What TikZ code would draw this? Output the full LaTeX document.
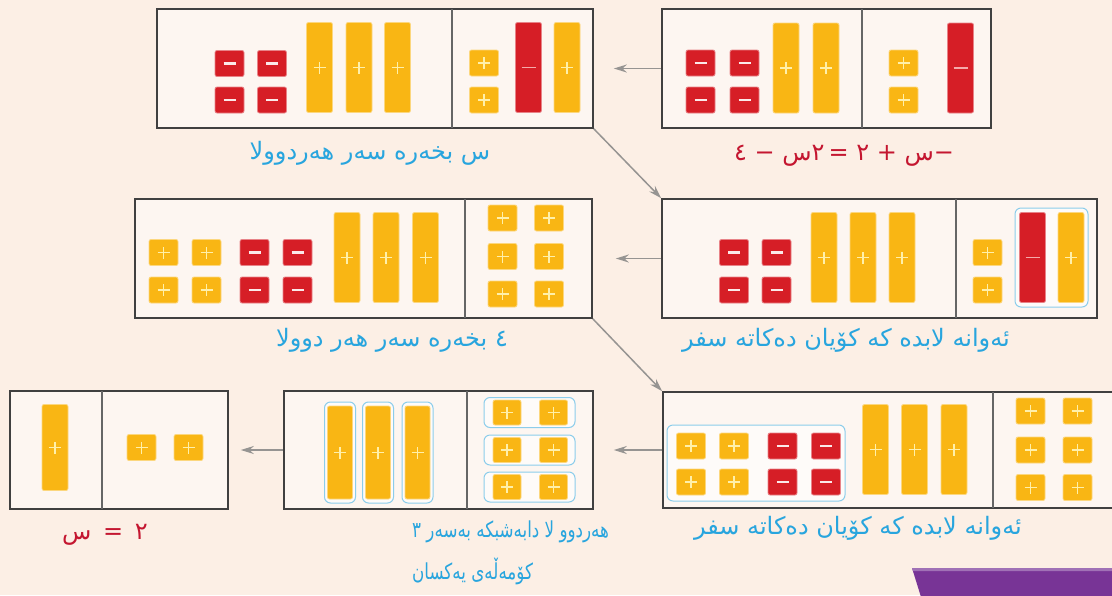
\documentclass[tikz,border=0pt]{standalone}
\usepackage{fontspec}
\usepackage{graphicx}
\newfontfamily\ar[Script=Arabic]{DejaVu Sans}
\TeXXeTstate=1
\usetikzlibrary{arrows.meta}
\definecolor{bg}{RGB}{252,239,229}
\definecolor{panelfill}{RGB}{253,246,241}
\definecolor{tileY}{RGB}{249,182,20}
\definecolor{tileR}{RGB}{214,30,38}
\definecolor{lblue}{RGB}{40,165,222}
\definecolor{lred}{RGB}{196,22,48}
\definecolor{grp}{RGB}{140,205,235}
\definecolor{arrgrey}{RGB}{150,148,146}
\definecolor{purp}{RGB}{120,52,150}
\definecolor{signY}{RGB}{255,240,170}
\definecolor{signR}{RGB}{245,170,170}
\begin{document}
\begin{tikzpicture}[x=1pt,y=-1pt,
 panel/.style={draw=black!75, line width=1.6pt, fill=panelfill, inner sep=0pt},
 divider/.style={draw=black!60, line width=1.2pt},
 tile/.style={rounded corners=2pt, inner sep=0pt, draw=#1!55!white, line width=0.8pt, fill=#1},
 plus/.style={path picture={
   \draw[signY, line width=1.2pt] ([xshift=-6pt]path picture bounding box.center) -- ([xshift=6pt]path picture bounding box.center);
   \draw[signY, line width=1.2pt] ([yshift=-6pt]path picture bounding box.center) -- ([yshift=6pt]path picture bounding box.center);}},
 minus/.style={path picture={
   \draw[white!90!tileR, line width=2.2pt] ([xshift=-6pt]path picture bounding box.center) -- ([xshift=6pt]path picture bounding box.center);}},
 thinminus/.style={path picture={
   \draw[signR, line width=1.4pt] ([xshift=-7pt]path picture bounding box.center) -- ([xshift=7pt]path picture bounding box.center);}},
 ys/.style={tile=tileY, minimum width=29pt, minimum height=26pt, plus},
 rs/.style={tile=tileR, minimum width=29pt, minimum height=26pt, minus},
 yb/.style={tile=tileY, minimum width=26pt, minimum height=90pt, plus},
 rb/.style={tile=tileR, minimum width=26pt, minimum height=90pt, thinminus},
 grpbox/.style={draw=grp, line width=1pt, fill=white!60!panelfill, rounded corners=6pt, inner sep=0pt},
 arr/.style={draw=arrgrey, line width=1.5pt, -{Stealth[length=13pt,width=8pt]}},
 lbl/.style={font=\ar\fontsize{24}{28}\selectfont, inner sep=0pt},
 lbls/.style={font=\ar\fontsize{22}{26}\selectfont, inner sep=0pt},
]
\useasboundingbox (0,0) rectangle (1112,595);
\fill[bg] (0,0) rectangle (1112,595);

% panels
\node[panel, minimum width=329pt, minimum height=119pt] (b1) at (826.5,68.5) {};
\node[panel, minimum width=436pt, minimum height=119pt] (b2) at (375,68.5) {};
\node[panel, minimum width=435pt, minimum height=119pt] (b3) at (879.5,258.5) {};
\node[panel, minimum width=457pt, minimum height=119pt] (b4) at (363.5,258.5) {};
\node[panel, minimum width=451pt, minimum height=116pt] (b5) at (888.5,450) {};
\node[panel, minimum width=309pt, minimum height=118pt] (b6) at (438.5,450) {};
\node[panel, minimum width=218pt, minimum height=118pt] (b7) at (119,450) {};

\draw[divider] (862,9) -- (862,128);
\draw[divider] (452,9) -- (452,128);
\draw[divider] (956,199) -- (956,318);
\draw[divider] (465,199) -- (465,318);
\draw[divider] (993,392) -- (993,508);
\draw[divider] (467,391) -- (467,509);
\draw[divider] (102,391) -- (102,509);

% box 1
\foreach \x/\y [count=\i] in {700.5/63,744.5/63,700.5/100,744.5/100} \node[rs] (a1r\i) at (\x,\y) {};
\foreach \x [count=\i] in {786,826} \node[yb] (a1b\i) at (\x,68) {};
\foreach \y [count=\i] in {63,100} \node[ys] (a1s\i) at (903.5,\y) {};
\node[rb] (a1m) at (960.5,68) {};

% box 2
\foreach \x/\y [count=\i] in {229.5/63.5,272/63.5,229.5/100,272/100} \node[rs] (a2r\i) at (\x,\y) {};
\foreach \x [count=\i] in {319.5,359,397.5} \node[yb] (a2b\i) at (\x,67.5) {};
\foreach \y [count=\i] in {63,100} \node[ys] (a2s\i) at (484,\y) {};
\node[rb] (a2m) at (528.5,67.5) {};
\node[yb] (a2p) at (567,67.5) {};

% box 3
\foreach \x/\y [count=\i] in {734/252.5,776.5/252.5,734/290,776.5/290} \node[rs] (a3r\i) at (\x,\y) {};
\foreach \x [count=\i] in {824,863,902} \node[yb] (a3b\i) at (\x,257.5) {};
\foreach \y [count=\i] in {252.5,290} \node[ys] (a3s\i) at (987.5,\y) {};
\node[grpbox, minimum width=73pt, minimum height=99pt] (g3) at (1051.5,257.5) {};
\node[rb] (a3m) at (1032.5,257.5) {};
\node[yb] (a3p) at (1071,257.5) {};

% box 4
\foreach \x/\y [count=\i] in {163.5/252.5,206.5/252.5,163.5/290,206.5/290} \node[ys] (a4y\i) at (\x,\y) {};
\foreach \x/\y [count=\i] in {254.5/252.5,297.5/252.5,254.5/290,297.5/290} \node[rs] (a4r\i) at (\x,\y) {};
\foreach \x [count=\i] in {347,386,425.5} \node[yb] (a4b\i) at (\x,257.5) {};
\foreach \x/\y [count=\i] in {502.5/218,549/218,502.5/256.5,549/256.5,502.5/294,549/294} \node[ys] (a4s\i) at (\x,\y) {};

% box 5
\node[grpbox, minimum width=178pt, minimum height=76pt] (g5) at (756,463) {};
\foreach \x/\y [count=\i] in {691/446,734/446,691/482,734/482} \node[ys] (a5y\i) at (\x,\y) {};
\foreach \x/\y [count=\i] in {782.5/446,826/446,782.5/482,826/482} \node[rs] (a5r\i) at (\x,\y) {};
\foreach \x [count=\i] in {875.5,914.5,954} \node[yb] (a5b\i) at (\x,449.5) {};
\foreach \x/\y [count=\i] in {1030.5/411,1077.5/411,1030.5/450,1077.5/450,1030.5/487.5,1077.5/487.5} \node[ys] (a5s\i) at (\x,\y) {};

% box 6
\foreach \x [count=\i] in {340,378,417.5} {
  \node[grpbox, minimum width=31pt, minimum height=101pt] (g6b\i) at (\x,452.5) {};
  \node[yb, minimum width=25pt, minimum height=93pt] (a6b\i) at (\x,452.5) {};
}
\foreach \y [count=\i] in {412.5,450,487} {
  \node[grpbox, minimum width=91pt, minimum height=30pt] (g6r\i) at (529.5,\y) {};
  \node[ys, minimum width=28pt, minimum height=25pt] (a6l\i) at (507,\y) {};
  \node[ys, minimum width=28pt, minimum height=25pt] (a6r\i) at (553.5,\y) {};
}

% box 7
\node[yb, minimum height=86pt] (a7b) at (55,447.5) {};
\foreach \x [count=\i] in {141.5,188.5} \node[ys] (a7s\i) at (\x,447.5) {};

% connectors
\draw[arr, shorten >=20pt] (b1.west) -- (b1.west -| b2.east);
\draw[arr, shorten >=23pt] (b3.west) -- (b3.west -| b4.east);
\draw[arr, shorten >=20pt] (b5.west) -- (b5.west -| b6.east);
\draw[arr, shorten >=12pt] (b6.west) -- (b6.west -| b7.east);
\draw[arr] (b2.south east) -- (b3.north west);
\draw[arr] (b4.south east) -- (b5.north west);

% labels
\node[lbl, text=lred] (l1) at (844,156) {\hbox{٤}\ \hbox{−}\ \hbox{س}\hbox{٢}\,\hbox{=}\ \hbox{٢}\ \hbox{+}\ \hbox{س}\hbox{−}};
\node[lbl, text=lblue] (l2) at (370,153) {\beginR س بخەرە سەر هەردوولا\endR};
\node[lbl, text=lblue] (l3) at (846,340) {\beginR ئەوانە لابدە کە کۆیان دەکاتە سفر\endR};
\node[lbl, text=lblue] (l4) at (392,340) {\beginR ٤ بخەرە سەر هەر دوولا\endR};
\node[lbl, text=lblue] (l5) at (858,528) {\beginR ئەوانە لابدە کە کۆیان دەکاتە سفر\endR};
\node[lbls, text=lblue, anchor=west] (l6a) at (412,532) {\scalebox{0.76}[1]{\beginR هەردوو لا دابەشبکە بەسەر ٣\endR}};
\node[lbls, text=lblue, anchor=west] (l6b) at (412,571) {\scalebox{0.76}[1]{\beginR کۆمەڵەی یەکسان\endR}};
\node[lbl, text=lred] (l7) at (105,535) {\hbox{س}\ \,\hbox{=}\ \,\hbox{٢}};

% purple tab
\fill[purp] (912,568) -- (1114,568) -- (1114,597) -- (921,597) -- cycle;
\fill[purp!70!white] (912,568) -- (1114,568) -- (1114,571) -- (912.9,571) -- cycle;
\end{tikzpicture}
\end{document}
